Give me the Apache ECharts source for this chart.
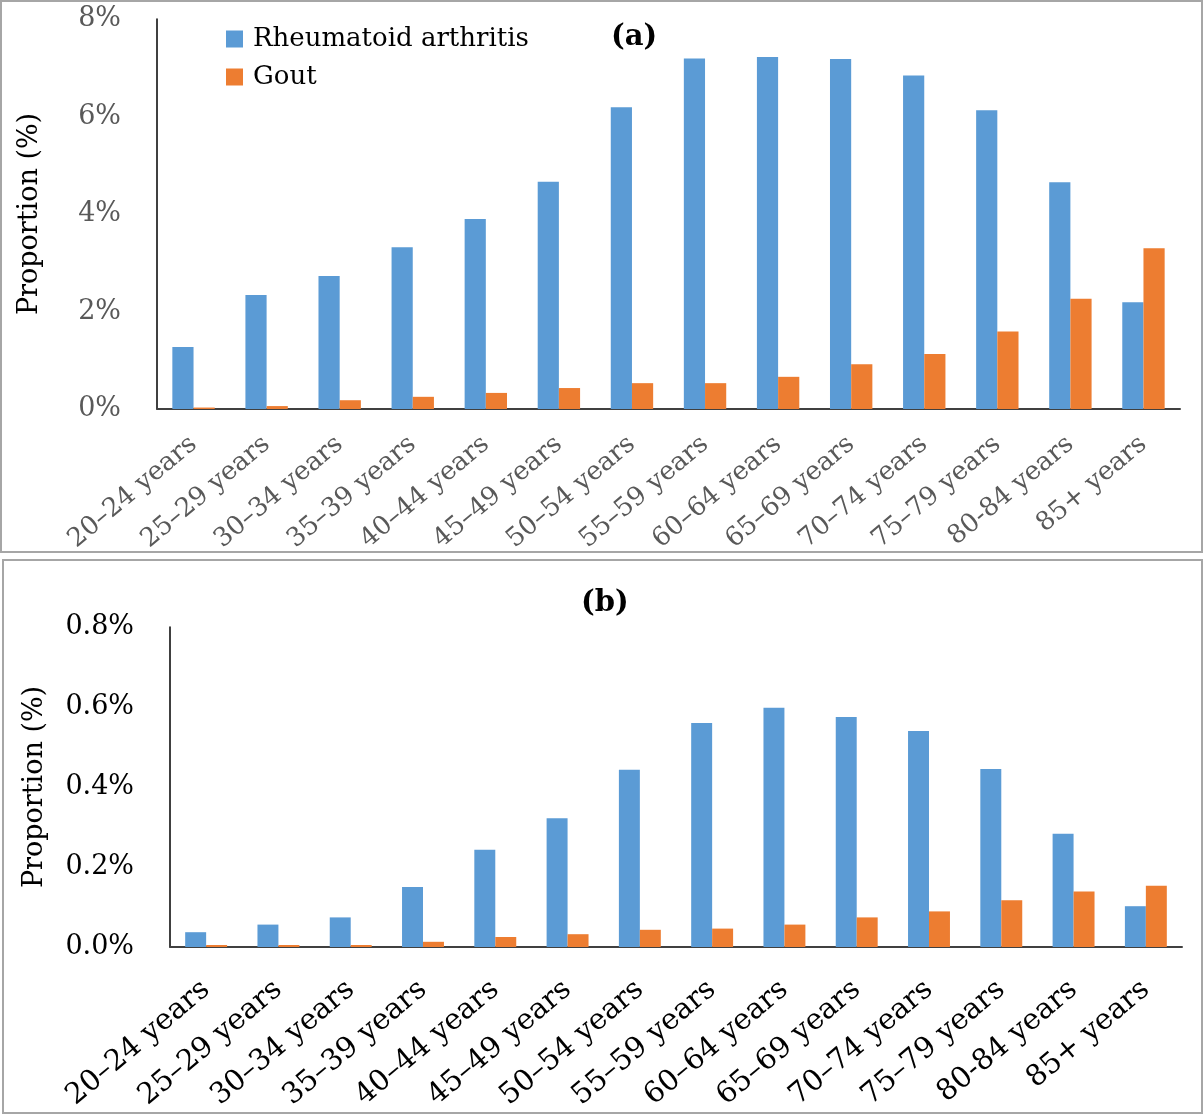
<!DOCTYPE html>
<html>
<head>
<meta charset="utf-8">
<script src="https://cdn.jsdelivr.net/npm/echarts@6/dist/echarts.min.js"></script>
<style>
  html, body { margin: 0; padding: 0; background: #fff; }
  #chart { width: 1204px; height: 1115px; }
</style>
</head>
<body>
<div id="chart"></div>
<script>
// age groups
const ageGroups = ['20–24 years', '25–29 years', '30–34 years', '35–39 years', '40–44 years',
  '45–49 years', '50–54 years', '55–59 years', '60–64 years', '65–69 years', '70–74 years',
  '75–79 years', '80-84 years', '85+ years']

// panel (a), proportion in %
const raA = [1.27, 2.34, 2.73, 3.32, 3.90, 4.66, 6.19, 7.19, 7.22, 7.18, 6.84, 6.13, 4.65, 2.19]
const goutA = [0.03, 0.06, 0.18, 0.25, 0.33, 0.43, 0.53, 0.53, 0.66, 0.92, 1.13, 1.59, 2.26, 3.30]

// panel (b), proportion in %
const raB = [0.037, 0.056, 0.074, 0.150, 0.243, 0.322, 0.443, 0.560, 0.598, 0.575, 0.540, 0.445, 0.283, 0.102]
const goutB = [0.005, 0.005, 0.005, 0.013, 0.025, 0.032, 0.043, 0.046, 0.056, 0.074, 0.089, 0.117, 0.139, 0.153]

const FONT = '"DejaVu Serif", serif'
const BLUE = '#5B9BD5'
const ORANGE = '#ED7D31'

const chart = echarts.init(document.getElementById('chart'))

function xAxis(gridIndex, color, size, margin) {
  return {
    type: 'category',
    gridIndex: gridIndex,
    data: ageGroups,
    axisTick: { show: false },
    axisLine: { lineStyle: { color: '#404040', width: 2 } },
    axisLabel: {
      interval: 0,
      rotate: 40,
      margin: margin,
      color: color,
      fontFamily: FONT,
      fontSize: size
    }
  }
}

function yAxis(gridIndex, max, interval, color, nameGap, fmt) {
  return {
    type: 'value',
    gridIndex: gridIndex,
    min: 0,
    max: max,
    interval: interval,
    name: 'Proportion (%)',
    nameLocation: 'middle',
    nameRotate: 90,
    nameGap: nameGap,
    nameTextStyle: { color: '#000', fontFamily: FONT, fontSize: 27 },
    axisLine: { show: true, lineStyle: { color: '#000', width: 1.5 } },
    axisTick: { show: false },
    splitLine: { show: false },
    axisLabel: {
      margin: 36,
      color: color,
      fontFamily: FONT,
      fontSize: 27,
      formatter: fmt
    }
  }
}

function barSeries(name, xi, data, color) {
  return {
    name: name,
    type: 'bar',
    xAxisIndex: xi,
    yAxisIndex: xi,
    data: data,
    barGap: '0%',
    barCategoryGap: '42%',
    itemStyle: { color: color },
    emphasis: { disabled: true }
  }
}

const option = {
  animation: false,
  backgroundColor: '#fff',
  graphic: [
    { type: 'rect', shape: { x: 1, y: 1, width: 1201, height: 551 }, style: { fill: 'none', stroke: '#A6A6A6', lineWidth: 2 } },
    { type: 'rect', shape: { x: 3, y: 560, width: 1199, height: 553 }, style: { fill: 'none', stroke: '#A6A6A6', lineWidth: 2 } }
  ],
  title: [
    { text: '(a)', left: 606, top: 18, textStyle: { fontFamily: FONT, fontSize: 29, fontWeight: 'bold', color: '#000' } },
    { text: '(b)', left: 576, top: 584, textStyle: { fontFamily: FONT, fontSize: 29, fontWeight: 'bold', color: '#000' } }
  ],
  legend: {
    orient: 'vertical',
    left: 221,
    top: 21,
    itemWidth: 17,
    itemHeight: 17,
    itemGap: 12,
    icon: 'rect',
    data: ['Rheumatoid arthritis', 'Gout'],
    textStyle: { fontFamily: FONT, fontSize: 26, color: '#000', padding: [0, 0, 0, 5] }
  },
  grid: [
    { left: 157, right: 24, top: 19, height: 390, outerBoundsMode: 'none' },
    { left: 170, right: 22, top: 627, height: 320, outerBoundsMode: 'none' }
  ],
  xAxis: [
    xAxis(0, '#595959', 26, 32),
    xAxis(1, '#000', 29, 39)
  ],
  yAxis: [
    yAxis(0, 8, 2, '#595959', 114, v => v + '%'),
    yAxis(1, 0.8, 0.2, '#000', 122, v => v.toFixed(1) + '%')
  ],
  series: [
    barSeries('Rheumatoid arthritis', 0, raA, BLUE),
    barSeries('Gout', 0, goutA, ORANGE),
    barSeries('Rheumatoid arthritis', 1, raB, BLUE),
    barSeries('Gout', 1, goutB, ORANGE)
  ]
}

chart.setOption(option)
</script>
</body>
</html>
